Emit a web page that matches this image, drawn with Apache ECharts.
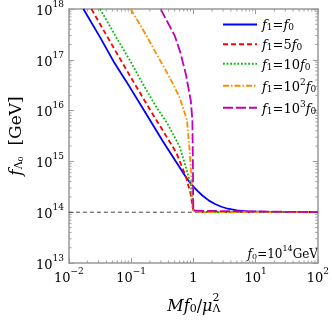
<!DOCTYPE html>
<html>
<head>
<meta charset="utf-8">
<script src="https://cdn.jsdelivr.net/npm/echarts@6/dist/echarts.min.js"></script>
<style>
html,body{margin:0;padding:0;background:#fff}
#chart{width:332px;height:320px}
</style>
</head>
<body>
<div id="chart"></div>
<script>
// curves (x = M f0 / mu^2, y = f_Lambda0 in GeV)
var blueX = [0.0171, 0.0316, 0.0522, 0.083, 0.158, 0.323, 0.562, 0.794, 0.9, 1.0, 1.175, 1.41, 1.78, 2.22, 2.82, 3.57, 5.0, 7.3, 15.8, 100];
var blueY = [1e18, 2.8e17, 9.3e16, 3.8e16, 1.05e16, 2.5e15, 8.7e14, 4.5e14, 3.72e14, 3.2e14, 2.59e14, 2.11e14, 1.69e14, 1.45e14, 1.28e14, 1.17e14, 1.09e14, 1.04e14, 1.009e14, 1e14];

var redX = [0.023, 0.05, 0.1, 0.2, 0.395, 0.532, 0.76, 0.908, 0.964, 1.0, 1.12, 1.58, 100];
var redY = [1e18, 1.9e17, 4.4e16, 1.05e16, 2.7e15, 1.48e15, 5.0e14, 2.24e14, 1.32e14, 1.1e14, 1.05e14, 1.01e14, 1e14];

var greenX = [0.0317, 0.063, 0.1007, 0.1455, 0.251, 0.381, 0.501, 0.6, 0.76, 0.908, 0.964, 1.0, 1.12, 1.58, 100];
var greenY = [1e18, 2.3e17, 8.7e16, 3.8e16, 1.2e16, 5.6e15, 3.0e15, 1.95e15, 7.6e14, 3.5e14, 1.32e14, 1.1e14, 1.05e14, 1.01e14, 1e14];

var orangeX = [0.0982, 0.176, 0.261, 0.42, 0.6, 0.787, 0.867, 0.931, 0.964, 1.0, 1.12, 1.58, 100];
var orangeY = [1e18, 3.0e17, 1.24e17, 4.4e16, 1.82e16, 6.6e15, 1.74e15, 4.7e14, 1.9e14, 1.07e14, 1.035e14, 1.007e14, 1e14];

var purpleX = [0.297, 0.501, 0.617, 0.76, 0.908, 0.964, 0.982, 0.993, 1.0, 1.07, 100];
var purpleY = [1e18, 3.0e17, 1.4e17, 5.1e16, 1.58e16, 6.6e15, 1e15, 2.0e14, 1.07e14, 1.02e14, 1e14];

var seriesNames = ['f1=f0', 'f1=5f0', 'f1=10f0', 'f1=10^2f0', 'f1=10^3f0'];
var legendRich = [
  '{i|f}{s|1}{n|=}{i|f}{s|0}',
  '{i|f}{s|1}{n|=5}{i|f}{s|0}',
  '{i|f}{s|1}{n|=10}{i|f}{s|0}',
  '{i|f}{s|1}{n|=10}{p|2}{i|f}{s|0}',
  '{i|f}{s|1}{n|=10}{p|3}{i|f}{s|0}'
];

var f0Level = 1e14;
var xTicksMinor = [0.02,0.03,0.04,0.05,0.06,0.07,0.08,0.09,0.2,0.3,0.4,0.5,0.6,0.7,0.8,0.9,2,3,4,5,6,7,8,9,20,30,40,50,60,70,80,90];
var yTicksMinor = [];
[13,14,15,16,17].forEach(function (e) {
  for (var k = 2; k <= 9; k++) yTicksMinor.push(k * Math.pow(10, e));
});

function zip(xs, ys) { return xs.map(function (x, i) { return [x, ys[i]]; }); }

var frame = '#999';
var serif = 'DejaVu Serif';

function powLabel(v) {
  var e = Math.round(Math.log10(v));
  if (e === 0) return '{b|1}';
  return '{b|10}{e|' + String(e).replace('-', '\u2212') + '}';
}
var labelRich = {
  b: { fontFamily: serif, fontSize: 13, color: '#000', lineHeight: 18, verticalAlign: 'bottom' },
  e: { fontFamily: serif, fontSize: 9, color: '#000', lineHeight: 10, verticalAlign: 'top' }
};

var axisCommon = {
  type: 'log', logBase: 10,
  axisLine: { lineStyle: { color: frame, width: 1.5 } },
  axisTick: { inside: true, length: 5, lineStyle: { color: frame, width: 1 } },
  splitLine: { show: false },
  minorTick: { show: false }
};

function minorTicks(kind) {
  return function (params, api) {
    var cs = params.coordSys;
    var p = api.coord([api.value(0), api.value(1)]);
    var len = 2.5, st = { stroke: frame, lineWidth: 1 };
    if (kind === 'x') {
      return { type: 'group', children: [
        { type: 'line', shape: { x1: p[0], y1: cs.y + cs.height, x2: p[0], y2: cs.y + cs.height - len }, style: st },
        { type: 'line', shape: { x1: p[0], y1: cs.y, x2: p[0], y2: cs.y + len }, style: st }
      ] };
    }
    return { type: 'group', children: [
      { type: 'line', shape: { x1: cs.x, y1: p[1], x2: cs.x + len, y2: p[1] }, style: st },
      { type: 'line', shape: { x1: cs.x + cs.width, y1: p[1], x2: cs.x + cs.width - len, y2: p[1] }, style: st }
    ] };
  };
}

var chart = echarts.init(document.getElementById('chart'), null, { renderer: 'canvas' });

var lineDefs = [
  { x: blueX, y: blueY, color: '#0000ff', type: 'solid' },
  { x: redX, y: redY, color: '#ff0000', type: [5, 3] },
  { x: greenX, y: greenY, color: '#00bf00', type: [1.8, 1.8] },
  { x: orangeX, y: orangeY, color: '#ff8c00', type: [6, 2, 1.5, 2] },
  { x: purpleX, y: purpleY, color: '#bf00bf', type: [10, 3] }
];

var series = [{
  name: 'f0line', type: 'line', xAxisIndex: 0, yAxisIndex: 0,
  data: [[0.01, f0Level], [100, f0Level]], symbol: 'none', silent: true,
  lineStyle: { color: '#444', width: 1, type: [4, 3] }, z: 1
}];
lineDefs.forEach(function (d, i) {
  series.push({
    name: seriesNames[i], type: 'line', xAxisIndex: 0, yAxisIndex: 0,
    data: zip(d.x, d.y), symbol: 'none', smooth: false,
    clip: true,
    lineStyle: { color: d.color, width: 1.8, type: d.type },
    itemStyle: { color: d.color }, z: 2 + i
  });
});
series.push({
  type: 'custom', xAxisIndex: 0, yAxisIndex: 0, silent: true,
  data: xTicksMinor.map(function (v) { return [v, 1e15]; }),
  renderItem: minorTicks('x'), z: 20
});
series.push({
  type: 'custom', xAxisIndex: 0, yAxisIndex: 0, silent: true,
  data: yTicksMinor.map(function (v) { return [1, v]; }),
  renderItem: minorTicks('y'), z: 20
});

var option = {
  animation: false,
  backgroundColor: '#fff',
  grid: { left: 62, right: 12, top: 6, bottom: 53, containLabel: false },
  legend: {
    data: seriesNames, orient: 'vertical', left: 217, top: 14,
    itemWidth: 34, itemHeight: 14, itemGap: 6,
    itemStyle: { color: 'transparent', borderWidth: 0, opacity: 0 },
    formatter: function (name) { return legendRich[seriesNames.indexOf(name)]; },
    textStyle: {
      rich: {
        i: { fontFamily: serif, fontStyle: 'italic', fontSize: 13, color: '#000', lineHeight: 16, verticalAlign: 'bottom' },
        n: { fontFamily: serif, fontSize: 13, color: '#000', lineHeight: 16, verticalAlign: 'bottom' },
        s: { fontFamily: serif, fontSize: 9, color: '#000', lineHeight: 11, verticalAlign: 'bottom' },
        p: { fontFamily: serif, fontSize: 9, color: '#000', lineHeight: 10, verticalAlign: 'top' }
      }
    }
  },
  xAxis: [
    Object.assign({}, axisCommon, {
      min: 0.01, max: 100, position: 'bottom',
      axisLabel: { formatter: powLabel, rich: labelRich, margin: 4 },
      name: '{i|Mf}{s|0}{n|/}{i|\u03bc}{sub|\u039b}{sup|2}',
      nameLocation: 'middle', nameGap: 30,
      nameTextStyle: {
        rich: {
          i: { fontFamily: serif, fontStyle: 'italic', fontSize: 16, color: '#000', lineHeight: 22, verticalAlign: 'bottom' },
          n: { fontFamily: serif, fontSize: 16, color: '#000', lineHeight: 22, verticalAlign: 'bottom' },
          s: { fontFamily: serif, fontSize: 11, color: '#000', lineHeight: 12, verticalAlign: 'bottom' },
          sub: { fontFamily: serif, fontSize: 11, color: '#000', lineHeight: 12, verticalAlign: 'bottom' },
          sup: { fontFamily: serif, fontSize: 11, color: '#000', lineHeight: 12, verticalAlign: 'top', padding: [0, 0, 0, -8] }
        }
      }
    }),
    Object.assign({}, axisCommon, {
      min: 0.01, max: 100, position: 'top', axisLabel: { show: false }
    })
  ],
  yAxis: [
    Object.assign({}, axisCommon, {
      min: 1e13, max: 1e18, position: 'left',
      axisLabel: { formatter: powLabel, rich: labelRich, margin: 5 },
      name: '{i|f}{s|\u039b}{ss|0}{n|  [GeV]}',
      nameLocation: 'middle', nameGap: 40, nameRotate: 90,
      nameTextStyle: {
        rich: {
          i: { fontFamily: serif, fontStyle: 'italic', fontSize: 17, color: '#000', lineHeight: 22, verticalAlign: 'bottom' },
          n: { fontFamily: serif, fontSize: 17, color: '#000', lineHeight: 22, verticalAlign: 'bottom' },
          s: { fontFamily: serif, fontSize: 11, color: '#000', lineHeight: 13, verticalAlign: 'bottom' },
          ss: { fontFamily: serif, fontSize: 8, color: '#000', lineHeight: 8, verticalAlign: 'bottom' }
        }
      }
    }),
    Object.assign({}, axisCommon, {
      min: 1e13, max: 1e18, position: 'right', axisLabel: { show: false }
    })
  ],
  graphic: [{
    type: 'text', right: 14, top: 245,
    style: {
      text: '{i|f}{s|0}{n|=10}{p|14}{n|GeV}',
      rich: {
        i: { fontFamily: serif, fontStyle: 'italic', fontSize: 12, fill: '#000', lineHeight: 16, verticalAlign: 'bottom' },
        n: { fontFamily: serif, fontSize: 12, fill: '#000', lineHeight: 16, verticalAlign: 'bottom' },
        s: { fontFamily: serif, fontSize: 8, fill: '#000', lineHeight: 10, verticalAlign: 'bottom' },
        p: { fontFamily: serif, fontSize: 8, fill: '#000', lineHeight: 10, verticalAlign: 'top' }
      }
    }
  }],
  series: series
};
chart.setOption(option);
</script>
</body>
</html>
